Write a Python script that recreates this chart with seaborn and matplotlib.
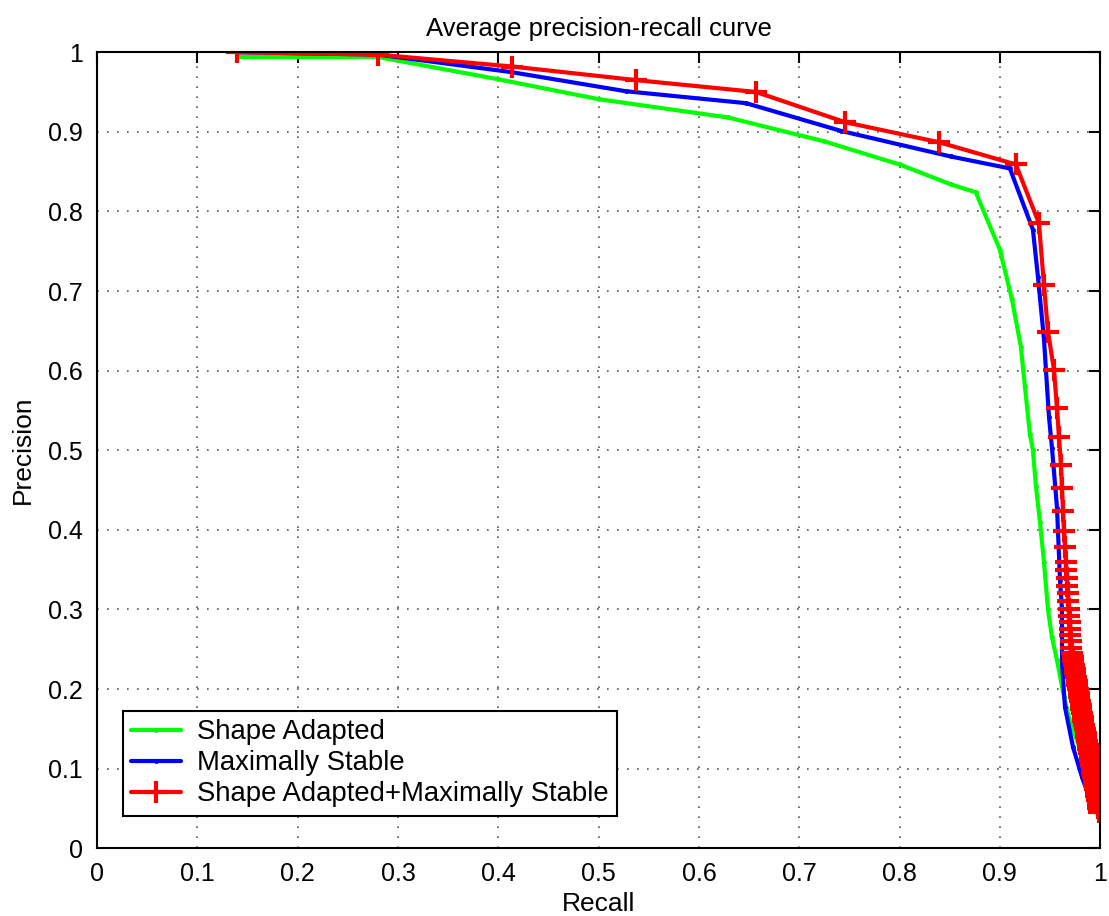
import numpy as np
import pandas as pd
import matplotlib
matplotlib.use("Agg")
import matplotlib.pyplot as plt
import seaborn as sns
from matplotlib.ticker import FuncFormatter

# ---------------- data ----------------
sa_recall = [0.14, 0.28, 0.40, 0.50, 0.629, 0.725, 0.80, 0.851, 0.876, 0.900, 0.912,
             0.921, 0.925, 0.930, 0.933, 0.936, 0.940, 0.944, 0.948, 0.952, 0.957,
             0.964, 0.970, 0.978, 0.985, 0.990]
sa_precision = [0.994, 0.994, 0.966, 0.941, 0.918, 0.888, 0.859, 0.834, 0.824, 0.752, 0.69,
                0.630, 0.58, 0.52, 0.50, 0.455, 0.41, 0.36, 0.300, 0.265, 0.236,
                0.19, 0.16, 0.132, 0.10, 0.08]

ms_recall = [0.14, 0.28, 0.413, 0.527, 0.647, 0.742, 0.851, 0.910, 0.933, 0.938, 0.944,
             0.949, 0.952, 0.957, 0.960, 0.962, 0.962, 0.965, 0.973, 0.982, 0.986]
ms_precision = [1.0, 0.997, 0.975, 0.951, 0.936, 0.901, 0.869, 0.854, 0.777, 0.718, 0.64,
                0.542, 0.503, 0.428, 0.337, 0.30, 0.232, 0.177, 0.127, 0.089, 0.075]

# combined detector: upper part, middle dense part, lower (merged) part
comb_recall = [
    0.14, 0.28, 0.414, 0.537, 0.657, 0.746, 0.839, 0.916, 0.939, 0.944,
    0.948, 0.954, 0.957, 0.959, 0.961, 0.962, 0.963, 0.964, 0.965, 0.966,
    0.966, 0.967, 0.967, 0.968, 0.968, 0.969, 0.969, 0.970, 0.970, 0.970,
    0.971, 0.971,
    0.972, 0.973, 0.973, 0.974, 0.975, 0.975, 0.976, 0.977, 0.977, 0.978,
    0.979, 0.979, 0.980, 0.981, 0.981, 0.982, 0.983, 0.983, 0.984, 0.985,
    0.986, 0.986, 0.987, 0.988, 0.988, 0.989, 0.990, 0.990, 0.991, 0.992,
    0.992, 0.993, 0.994, 0.994, 0.995, 0.996, 0.996, 0.997, 0.998, 0.998,
    0.999]
comb_precision = [
    1.0, 0.997, 0.982, 0.965, 0.950, 0.912, 0.887, 0.859, 0.785, 0.708,
    0.649, 0.601, 0.553, 0.516, 0.481, 0.452, 0.424, 0.399, 0.379, 0.360,
    0.350, 0.340, 0.330, 0.320, 0.310, 0.300, 0.292, 0.284, 0.276, 0.268,
    0.260, 0.252,
    0.245, 0.240, 0.235, 0.230, 0.225, 0.220, 0.215, 0.210, 0.205, 0.200,
    0.195, 0.190, 0.185, 0.180, 0.175, 0.170, 0.165, 0.160, 0.155, 0.150,
    0.145, 0.140, 0.135, 0.130, 0.125, 0.120, 0.115, 0.110, 0.105, 0.100,
    0.095, 0.090, 0.085, 0.080, 0.075, 0.070, 0.065, 0.060, 0.055, 0.050,
    0.045]

series_names = ["Shape Adapted", "Maximally Stable", "Shape Adapted+Maximally Stable"]
tick_values = [round(0.1 * i, 1) for i in range(11)]

# ---------------- style ----------------
sns.set_theme(style="white")
plt.rcParams["font.family"] = ["Liberation Sans", "DejaVu Sans"]
plt.rcParams["axes.edgecolor"] = "black"
plt.rcParams["axes.linewidth"] = 1.5
plt.rcParams["text.color"] = "black"
plt.rcParams["axes.labelcolor"] = "black"
plt.rcParams["xtick.color"] = "black"
plt.rcParams["ytick.color"] = "black"

fig = plt.figure(figsize=(11.09, 9.16), dpi=100)
ax = fig.add_axes([0.0875, 0.074, 0.9045, 0.869])

df_sa = pd.DataFrame({"Recall": sa_recall, "Precision": sa_precision})
df_ms = pd.DataFrame({"Recall": ms_recall, "Precision": ms_precision})
df_cb = pd.DataFrame({"Recall": comb_recall, "Precision": comb_precision})

green, blue, red = (0, 1, 0), (0, 0, 1), (1, 0, 0)

sns.lineplot(data=df_sa, x="Recall", y="Precision", sort=False, estimator=None, ax=ax,
             color=green, linewidth=3, marker=".", markersize=6,
             markeredgecolor=green, markerfacecolor=green, markeredgewidth=0.5,
             label=series_names[0])
sns.lineplot(data=df_ms, x="Recall", y="Precision", sort=False, estimator=None, ax=ax,
             color=blue, linewidth=3, marker=".", markersize=6,
             markeredgecolor=blue, markerfacecolor=blue, markeredgewidth=0.5,
             label=series_names[1])
sns.lineplot(data=df_cb, x="Recall", y="Precision", sort=False, estimator=None, ax=ax,
             color=red, linewidth=3, marker="+", markersize=16,
             markeredgecolor=red, markeredgewidth=3, label=series_names[2])

ax.set_xlim(0, 1)
ax.set_ylim(0, 1)
ax.set_xticks(tick_values)
ax.set_yticks(tick_values)
fmt = FuncFormatter(lambda v, p: ("%g" % round(v, 1)))
ax.xaxis.set_major_formatter(fmt)
ax.yaxis.set_major_formatter(fmt)

ax.grid(True, linestyle=(0, (1, 5)), color="#555555", linewidth=1.2)
ax.tick_params(direction="in", length=8, width=1.5, top=True, right=True,
               labelsize=18, colors="black", pad=10)
for s in ax.spines.values():
    s.set_visible(True)
    s.set_color("black")
    s.set_linewidth(1.5)

ax.set_xlabel("Recall", fontsize=19, labelpad=4, color="black")
ax.set_ylabel("Precision", fontsize=19, labelpad=10, color="black")
ax.set_title("Average precision-recall curve", fontsize=18.5, pad=12, color="black")

leg = ax.legend(loc="lower left", bbox_to_anchor=(0.026, 0.041), borderaxespad=0,
                fontsize=19.8, frameon=True, fancybox=False, edgecolor="black",
                handlelength=1.8, handletextpad=0.6, labelspacing=0.18,
                borderpad=0.3, framealpha=1)
leg.get_frame().set_linewidth(1.5)
for t in leg.get_texts():
    t.set_color("black")

fig.savefig("out.png", dpi=100)
